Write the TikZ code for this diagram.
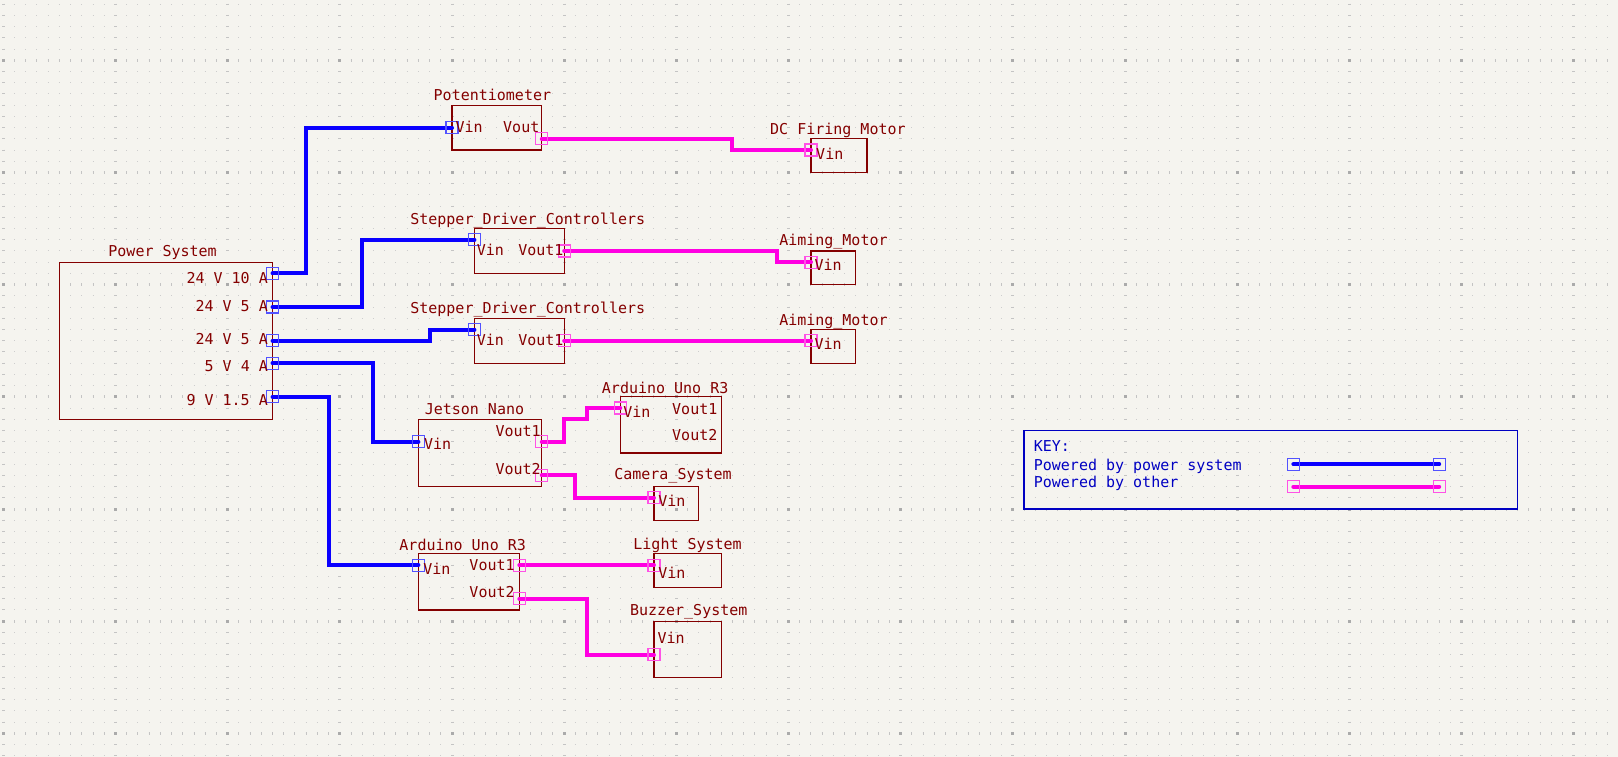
\documentclass[tikz,border=0pt]{standalone}
\usepackage{fontspec}
\newfontfamily\kifont{DejaVu Sans Mono}
\definecolor{kibg}{HTML}{F5F4EF}
\definecolor{kired}{HTML}{840000}
\definecolor{kiblue}{HTML}{0000C2}
\definecolor{pwrblue}{HTML}{0A00FF}
\definecolor{othmag}{HTML}{FF00E2}
\definecolor{pinblue}{HTML}{5252FF}
\definecolor{pinmag}{HTML}{FF52E6}
\definecolor{griddot}{HTML}{CDCDCD}
\definecolor{gridtick}{HTML}{C4C4C4}
\definecolor{gridmaj}{HTML}{ABABAB}
\tikzset{
 sheet/.style={draw=kired, line width=1.2pt},
 lbl/.style={text=kired, font=\kifont\fontsize{15pt}{15pt}\selectfont, inner sep=0pt, anchor=base},
 pinL/.style={lbl, anchor=base west},
 pinR/.style={lbl, anchor=base east},
 keytxt/.style={lbl, text=kiblue, anchor=base west},
 pwrwire/.style={draw=pwrblue, line width=4pt, line cap=round},
 othwire/.style={draw=othmag, line width=4pt, line cap=round},
 bpin/.style={draw=pinblue, line width=1.2pt},
 mpin/.style={draw=pinmag, line width=1.2pt},
 dotrow/.style={griddot, line width=1pt, dash pattern=on 1pt off 10.218pt},
 tickline/.style={gridtick, line width=3pt, dash pattern=on 1pt off 10.218pt}
}
\begin{document}
\begin{tikzpicture}[x=11.218pt, y=-11.218pt]
\useasboundingbox[fill=kibg] (-0.2942,-5.375) rectangle (143.94,62.106);
\foreach \y in {-5,...,62} {
 \draw[dotrow] ([xshift=-0.5pt]0,\y) -- (143.5,\y);
}
\foreach \y in {0,10,...,60} {
 \draw[tickline] ([xshift=-0.5pt]0,\y) -- (143.5,\y);
}
\foreach \x in {0,10,...,140} {
 \draw[tickline] ([yshift=0.5pt]\x,-5) -- (\x,62.1);
\foreach \y in {0,10,...,60} {
 \fill[gridmaj] (\x,\y) ++(-1.5pt,-1.5pt) rectangle ++(3pt,3pt);
}
}

\draw[sheet] (5,18) rectangle (24,32);
\draw[sheet] (40,4) rectangle (48,8);
\draw[sheet] (72,7) rectangle (77,10);
\draw[sheet] (42,15) rectangle (50,19);
\draw[sheet] (72,17) rectangle (76,20);
\draw[sheet] (42,23) rectangle (50,27);
\draw[sheet] (72,24) rectangle (76,27);
\draw[sheet] (37,32) rectangle (48,38);
\draw[sheet] (55,30) rectangle (64,35);
\draw[sheet] (58,38) rectangle (62,41);
\draw[sheet] (37,44) rectangle (46,49);
\draw[sheet] (58,44) rectangle (64,47);
\draw[sheet] (58,50) rectangle (64,55);
\draw[draw=kiblue, line width=1.3pt] (91,33) rectangle (135,40);

\coordinate (pw1) at (24,19);
\coordinate (pw2) at (24,22);
\coordinate (pw3) at (24,25);
\coordinate (pw4) at (24,27);
\coordinate (pw5) at (24,30);
\coordinate (potin) at (40,6);
\coordinate (potout) at (48,7);
\coordinate (dcin) at (72,8);
\coordinate (st1in) at (42,16);
\coordinate (st1out) at (50,17);
\coordinate (aim1in) at (72,18);
\coordinate (st2in) at (42,24);
\coordinate (st2out) at (50,25);
\coordinate (aim2in) at (72,25);
\coordinate (jetin) at (37,34);
\coordinate (jetout1) at (48,34);
\coordinate (jetout2) at (48,37);
\coordinate (ard1in) at (55,31);
\coordinate (camin) at (58,39);
\coordinate (ard2in) at (37,45);
\coordinate (ard2out1) at (46,45);
\coordinate (ard2out2) at (46,48);
\coordinate (lightin) at (58,45);
\coordinate (buzin) at (58,53);
\coordinate (keyb1) at (115,36);
\coordinate (keyb2) at (128,36);
\coordinate (keym1) at (115,38);
\coordinate (keym2) at (128,38);

\draw[pwrwire] (pw1) -- ++(3,0) |- (potin);
\draw[pwrwire] (pw2) -- ++(8,0) |- (st1in);
\draw[pwrwire] (pw3) -- ++(14,0) |- (st2in);
\draw[pwrwire] (pw4) -- ++(9,0) |- (jetin);
\draw[pwrwire] (pw5) -- ++(5,0) |- (ard2in);
\draw[othwire] (potout) -- ++(17,0) |- (dcin);
\draw[othwire] (st1out) -- ++(19,0) |- (aim1in);
\draw[othwire] (st2out) -- (aim2in);
\draw[othwire] (jetout1) -- ++(2,0) -- ++(0,-2) -- ++(2,0) |- (ard1in);
\draw[othwire] (jetout2) -- ++(3,0) |- (camin);
\draw[othwire] (ard2out1) -- (lightin);
\draw[othwire] (ard2out2) -- ++(6,0) |- (buzin);
\draw[pwrwire] (keyb1) -- (keyb2);
\draw[othwire] (keym1) -- (keym2);

\foreach \p in {pw1,pw2,pw3,pw4,pw5,potin,st1in,st2in,jetin,ard2in,keyb1,keyb2} {
 \draw[bpin] (\p) ++(-0.535,-0.535) rectangle ++(1.07,1.07);
}
\foreach \p in {potout,dcin,st1out,aim1in,st2out,aim2in,jetout1,jetout2,ard1in,camin,ard2out1,ard2out2,lightin,buzin,keym1,keym2} {
 \draw[mpin] (\p) ++(-0.535,-0.535) rectangle ++(1.07,1.07);
}

\node[lbl] (tpwr) at (14.2,17.5) {Power System};
\node[pinR] (tpw1) at (23.6,19.92) {24 V 10 A};
\node[pinR] (tpw2) at (23.6,22.37) {24 V 5 A};
\node[pinR] (tpw3) at (23.6,25.37) {24 V 5 A};
\node[pinR] (tpw4) at (23.6,27.74) {5 V 4 A};
\node[pinR] (tpw5) at (23.6,30.76) {9 V 1.5 A};

\node[lbl] (tpot) at (43.6,3.55) {Potentiometer};
\node[pinL] (tpotin) at (40.3,6.43) {Vin};
\node[pinR] (tpotout) at (47.8,6.43) {Vout};
\node[lbl] (tdc) at (74.4,6.6) {DC Firing Motor};
\node[pinL] (tdcin) at (72.45,8.8) {Vin};

\node[lbl] (tst1) at (46.75,14.6) {Stepper\_Driver\_Controllers};
\node[pinL] (tst1in) at (42.2,17.4) {Vin};
\node[pinR] (tst1out) at (49.95,17.4) {Vout1};
\node[lbl] (taim1) at (74,16.5) {Aiming\_Motor};
\node[pinL] (taim1in) at (72.3,18.7) {Vin};

\node[lbl] (tst2) at (46.75,22.6) {Stepper\_Driver\_Controllers};
\node[pinL] (tst2in) at (42.2,25.4) {Vin};
\node[pinR] (tst2out) at (49.95,25.4) {Vout1};
\node[lbl] (taim2) at (74,23.6) {Aiming\_Motor};
\node[pinL] (taim2in) at (72.3,25.77) {Vin};

\node[lbl] (tjet) at (42,31.6) {Jetson Nano};
\node[pinL] (tjetin) at (37.5,34.7) {Vin};
\node[pinR] (tjetout1) at (47.93,33.56) {Vout1};
\node[pinR] (tjetout2) at (47.93,36.94) {Vout2};

\node[lbl] (tard1) at (59,29.7) {Arduino Uno R3};
\node[pinL] (tard1in) at (55.26,31.8) {Vin};
\node[pinR] (tard1out1) at (63.67,31.6) {Vout1};
\node[pinR] (tard1out2) at (63.67,33.9) {Vout2};
\node[lbl] (tcam) at (59.7,37.4) {Camera\_System};
\node[pinL] (tcamin) at (58.38,39.77) {Vin};

\node[lbl] (tard2) at (40.95,43.7) {Arduino Uno R3};
\node[pinL] (tard2in) at (37.43,45.8) {Vin};
\node[pinR] (tard2out1) at (45.6,45.5) {Vout1};
\node[pinR] (tard2out2) at (45.6,47.9) {Vout2};
\node[lbl] (tlight) at (61,43.6) {Light System};
\node[pinL] (tlightin) at (58.38,46.15) {Vin};
\node[lbl] (tbuz) at (61.1,49.5) {Buzzer\_System};
\node[pinL] (tbuzin) at (58.3,52) {Vin};

\node[keytxt] (tkey) at (91.85,34.9) {KEY:};
\node[keytxt] (tkeyb) at (91.85,36.54) {Powered by power system};
\node[keytxt] (tkeym) at (91.85,38.1) {Powered by other};
\end{tikzpicture}
\end{document}
